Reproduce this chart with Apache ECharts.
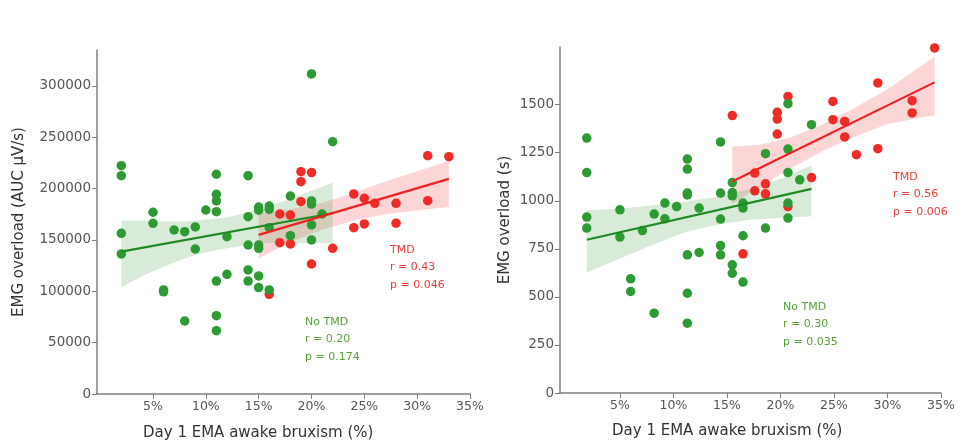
<!DOCTYPE html>
<html>
<head>
<meta charset="utf-8">
<script src="https://cdn.jsdelivr.net/npm/echarts@6/dist/echarts.min.js"></script>
<style>
  html, body { margin: 0; padding: 0; background: #fff; }
  #main { width: 976px; height: 445px; }
</style>
</head>
<body>
<div id="main"></div>
<script>
// tick labels
var xTicks = [5, 10, 15, 20, 25, 30, 35];
var leftYTicks = [0, 50000, 100000, 150000, 200000, 250000, 300000];
var rightYTicks = [0, 250, 500, 750, 1000, 1250, 1500];

// left panel: EMG overload (AUC µV/s)
var leftNoTmd = [
  [2, 222400], [2, 212600], [2, 156500], [2, 136400],
  [5, 177000], [5, 166200], [6, 101300], [6, 99500],
  [7, 159700], [8, 158100], [8, 71100], [9, 162700], [9, 141200], [10, 179200],
  [11, 214000], [11, 194500], [11, 188000], [11, 177600], [11, 110000], [11, 76300], [11, 61700],
  [12, 153200], [12, 116600],
  [14, 212600], [14, 172700], [14, 145100], [14, 120800], [14, 110000],
  [15, 182000], [15, 179000], [15, 145100], [15, 141900], [15, 115000], [15, 103600],
  [16, 183000], [16, 179900], [16, 162000], [16, 101300],
  [18, 192800], [18, 154200],
  [20, 311700], [20, 188000], [20, 185000], [20, 164600], [20, 150000],
  [21, 175300], [22, 245700]
];
var leftTmd = [
  [16, 97100], [17, 175300], [17, 147400], [18, 174300], [18, 146100],
  [19, 216500], [19, 206800], [19, 187300], [20, 215600], [20, 126600],
  [22, 141900], [24, 194800], [24, 162000], [25, 190600], [25, 165600],
  [26, 185700], [28, 185700], [28, 166300], [31, 232100], [31, 188300], [33, 231100]
];
var leftNoTmdFit = [[2, 138600], [22, 176000]];
var leftNoTmdBandX = [2, 4, 6, 8, 10, 12, 14, 16, 18, 20, 22];
var leftNoTmdBandLo = [104000, 115000, 124000, 132000, 138000, 142000, 145000, 147000, 147000, 147000, 147000];
var leftNoTmdBandHi = [169000, 169000, 168000, 168000, 170000, 172000, 177000, 183000, 190000, 198000, 206000];
var leftTmdFit = [[15, 155000], [33, 209500]];
var leftTmdBandX = [15, 18, 21, 24, 27, 30, 33];
var leftTmdBandLo = [132000, 148000, 160000, 169000, 175000, 179000, 182000];
var leftTmdBandHi = [176000, 180000, 186000, 196000, 207000, 217000, 227000];

// right panel: EMG overload (s)
var rightNoTmd = [
  [1.9, 1326], [1.9, 1147], [1.9, 915], [1.9, 858],
  [5, 953], [5, 811], [6, 594], [6, 528],
  [7.1, 845], [8.2, 931], [8.2, 415], [9.2, 988], [9.2, 906], [10.3, 970],
  [11.3, 1217], [11.3, 1165], [11.3, 1040], [11.3, 1030], [11.3, 719], [11.3, 519], [11.3, 363],
  [12.4, 962], [12.4, 731],
  [14.4, 1306], [14.4, 1040], [14.4, 905], [14.4, 767], [14.4, 719],
  [15.5, 1095], [15.5, 1043], [15.5, 1026], [15.5, 667], [15.5, 623],
  [16.5, 988], [16.5, 962], [16.5, 818], [16.5, 577],
  [18.6, 1245], [18.6, 858],
  [20.7, 1505], [20.7, 1269], [20.7, 1147], [20.7, 988], [20.7, 910],
  [21.8, 1109], [22.9, 1396]
];
var rightTmd = [
  [15.5, 1443], [16.5, 724], [17.6, 1144], [17.6, 1052], [18.6, 1088], [18.6, 1036],
  [19.7, 1460], [19.7, 1425], [19.7, 1347], [20.7, 1543], [20.7, 970], [22.9, 1121],
  [24.9, 1517], [24.9, 1422], [26, 1413], [26, 1332], [27.1, 1240],
  [29.1, 1613], [29.1, 1271], [32.3, 1521], [32.3, 1457], [34.4, 1795]
];
var rightNoTmdFit = [[1.9, 797], [22.9, 1062]];
var rightNoTmdBandX = [1.9, 5, 8, 11, 14, 17, 20, 22.9];
var rightNoTmdBandLo = [625, 700, 770, 835, 875, 900, 912, 920];
var rightNoTmdBandHi = [950, 960, 975, 995, 1020, 1060, 1115, 1185];
var rightTmdFit = [[15.5, 1100], [34.4, 1616]];
var rightTmdBandX = [15.5, 18, 21, 24, 27, 30, 34.4];
var rightTmdBandLo = [985, 1070, 1170, 1260, 1335, 1400, 1445];
var rightTmdBandHi = [1283, 1290, 1330, 1400, 1485, 1580, 1750];

var GREEN = '#2e9a34', RED = '#ee2b26';
var GREEN_LINE = '#1f8a22', RED_LINE = '#ee2222';
var FONT = 'DejaVu Sans';

var myChart = echarts.init(document.getElementById('main'));

function xAxisFor(grid, min) {
  return {
    type: 'value', gridIndex: grid, min: min, max: 35,
    axisLine: { onZero: false, lineStyle: { color: '#808080', width: 1.5 } },
    axisTick: { show: true, customValues: xTicks, length: 5, lineStyle: { color: '#808080' } },
    axisLabel: { customValues: xTicks, formatter: function (v) { return v + '%'; },
      color: '#555', fontSize: 12.5, fontFamily: FONT, margin: 6 },
    splitLine: { show: false }
  };
}
function yAxisFor(grid, max, ticks, name, gap) {
  return {
    type: 'value', gridIndex: grid, min: 0, max: max,
    name: name, nameLocation: 'middle', nameGap: gap, nameRotate: 90,
    nameTextStyle: { color: '#333', fontSize: 15, fontFamily: FONT },
    axisLine: { show: true, onZero: false, lineStyle: { color: '#808080', width: 1.5 } },
    axisTick: { show: true, customValues: ticks, length: 5, lineStyle: { color: '#808080' } },
    axisLabel: { customValues: ticks, formatter: function (v) { return String(v); },
      color: '#555', fontSize: 13.5, fontFamily: FONT, margin: 6 },
    splitLine: { show: false }
  };
}
// confidence band as one polygon, placed through the axis scales
function band(idx, bx, lo, hi, color) {
  return {
    type: 'custom', xAxisIndex: idx, yAxisIndex: idx, silent: true,
    data: bx.map(function (x, i) { return [x, lo[i], hi[i]]; }),
    encode: { x: 0, y: [1, 2] },
    renderItem: function (params, api) {
      if (params.dataIndex !== 0) return null;
      var pts = [];
      for (var i = 0; i < bx.length; i++) pts.push(api.coord([bx[i], hi[i]]));
      for (var j = bx.length - 1; j >= 0; j--) pts.push(api.coord([bx[j], lo[j]]));
      return { type: 'polygon', shape: { points: pts }, style: { fill: color } };
    }
  };
}
function dots(idx, data, color) {
  return { type: 'scatter', xAxisIndex: idx, yAxisIndex: idx, symbolSize: 9.5,
    itemStyle: { color: color, opacity: 1 }, data: data, clip: false };
}
function fit(idx, data, color) {
  return { type: 'line', xAxisIndex: idx, yAxisIndex: idx, symbol: 'none',
    lineStyle: { color: color, width: 2.2 }, data: data };
}
function note(x, y, lines, color) {
  return { type: 'text', left: x, top: y,
    style: { text: lines.join('\n'), fill: color, font: '11px ' + FONT, lineHeight: 17.5 } };
}

var series = [
  band(0, leftTmdBandX, leftTmdBandLo, leftTmdBandHi, 'rgba(240,70,70,0.22)'),
  band(0, leftNoTmdBandX, leftNoTmdBandLo, leftNoTmdBandHi, 'rgba(60,155,60,0.2)'),
  dots(0, leftTmd, RED), dots(0, leftNoTmd, GREEN),
  fit(0, leftNoTmdFit, GREEN_LINE), fit(0, leftTmdFit, RED_LINE),
  band(1, rightTmdBandX, rightTmdBandLo, rightTmdBandHi, 'rgba(240,70,70,0.22)'),
  band(1, rightNoTmdBandX, rightNoTmdBandLo, rightNoTmdBandHi, 'rgba(60,155,60,0.2)'),
  dots(1, rightTmd, RED), dots(1, rightNoTmd, GREEN),
  fit(1, rightNoTmdFit, GREEN_LINE), fit(1, rightTmdFit, RED_LINE)
];

var option = {
  animation: false,
  grid: [
    { left: 97, top: 50, width: 373, height: 344 },
    { left: 560, top: 47, width: 381, height: 346 }
  ],
  xAxis: [xAxisFor(0, -0.3), xAxisFor(1, -0.6)],
  yAxis: [
    yAxisFor(0, 335000, leftYTicks, 'EMG overload (AUC µV/s)', 70),
    yAxisFor(1, 1800, rightYTicks, 'EMG overload (s)', 47)
  ],
  graphic: [
    { type: 'text', left: 143, top: 426, style: { text: 'Day 1 EMA awake bruxism (%)', fill: '#333', font: '15px ' + FONT } },
    { type: 'text', left: 612, top: 424, style: { text: 'Day 1 EMA awake bruxism (%)', fill: '#333', font: '15px ' + FONT } },
    note(390, 241, ['TMD', 'r = 0.43', 'p = 0.046'], '#e8413c'),
    note(305, 313, ['No TMD', 'r = 0.20', 'p = 0.174'], '#58a03c'),
    note(893, 168, ['TMD', 'r = 0.56', 'p = 0.006'], '#e8413c'),
    note(783, 298, ['No TMD', 'r = 0.30', 'p = 0.035'], '#58a03c')
  ],
  series: series
};

myChart.setOption(option);
</script>
</body>
</html>
